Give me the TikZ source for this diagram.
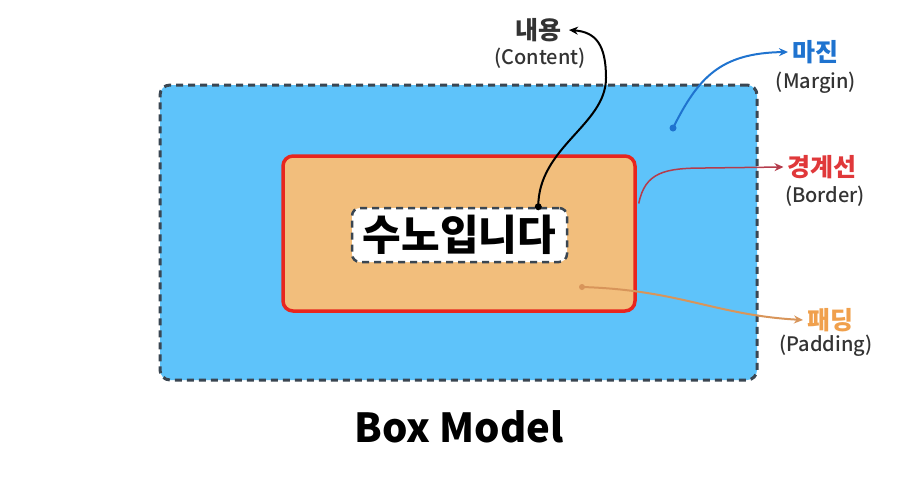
\documentclass[tikz,border=0pt]{standalone}
\usepackage{fontspec}
\setmainfont{Noto Sans CJK KR}
\newfontfamily\krmed{Noto Sans CJK KR Medium}
\usetikzlibrary{arrows.meta, calc}

\definecolor{marginblue}{HTML}{5EC3FA}
\definecolor{paddingorange}{HTML}{F2BE7C}
\definecolor{borderred}{HTML}{E8261E}
\definecolor{dashgray}{HTML}{3A4652}
\definecolor{labelblue}{HTML}{1F73CF}
\definecolor{labelred}{HTML}{E0383A}
\definecolor{labelorange}{HTML}{F0A04C}
\definecolor{arrowred}{HTML}{B43C4C}
\definecolor{arrowtan}{HTML}{D8955A}
\definecolor{textgray}{HTML}{333333}

\tikzset{
  dashedbox/.style={draw=dashgray, line width=3, dash pattern=on 7 off 5, rounded corners=10},
  kortitle/.style={font=\fontsize{25}{25}\selectfont\bfseries, inner sep=3},
  engsub/.style={font=\krmed\fontsize{20}{20}\selectfont, text=textgray, inner sep=2},
  pin/.style={circle, fill, inner sep=0, minimum size=7},
}

\begin{document}
\begin{tikzpicture}[x=1pt, y=-1pt, >={Stealth[length=9, width=8]}, line width=2]
  \useasboundingbox (0,0) rectangle (919,485);
  % cajas del modelo
  \node[dashedbox, fill=marginblue, minimum width=597, minimum height=295] (margin) at (458.5,232.5) {};
  \node[draw=borderred, line width=3.5, fill=paddingorange, rounded corners=10,
        minimum width=352, minimum height=155] (padding) at (459,233.5) {};
  \node[dashedbox, line width=2.5, fill=white, rounded corners=8, minimum width=215, minimum height=54,
        font=\fontsize{42}{42}\selectfont\bfseries] (content) at (459.5,235) {수노입니다};
  \node[font=\fontsize{40}{40}\selectfont\bfseries] (title) at (459,427) {Box Model};

  % etiquetas
  \node[kortitle, text=textgray] (lblcontent) at (538,30) {내용};
  \node[engsub] (subcontent) at (540,58) {(Content)};
  \node[kortitle, text=labelblue] (lblmargin) at (815,52) {마진};
  \node[engsub] (submargin) at (816,83) {(Margin)};
  \node[kortitle, text=labelred] (lblborder) at (822,167) {경계선};
  \node[engsub] (subborder) at (825,196) {(Border)};
  \node[kortitle, text=labelorange] (lblpadding) at (830,320) {패딩};
  \node[engsub] (subpadding) at (826,346) {(Padding)};

  % puntos de origen
  \coordinate (pcontent) at ($(content.north east)+(-30,0)$);
  \coordinate (pmargin) at (673,128);
  \coordinate (pborder) at ($(padding.east)+(2,-30)$);
  \coordinate (ppadding) at (582,287);
  \coordinate (tcontent) at ($(lblcontent.east)+(4,0)$);

  % flechas
  \fill (pcontent) circle (3.5);
  \draw[->] (pcontent) .. controls ($(pcontent)+(0,-60)$) and (606,125) .. (606,78)
    .. controls (606,45) and (596,32) .. (tcontent);
  \fill[labelblue] (pmargin) circle (3.5);
  \draw[->, labelblue] (pmargin) .. controls (698,78) and (720,53) .. (lblmargin.west);
  \draw[->, arrowred, line width=1.5] (pborder) .. controls (645,172) and (665,168) .. (705,168) -- (lblborder.west);
  \fill[arrowtan] (ppadding) circle (3);
  \draw[->, arrowtan] (ppadding) .. controls (680,290) and (715,315) .. (lblpadding.west);
\end{tikzpicture}
\end{document}
